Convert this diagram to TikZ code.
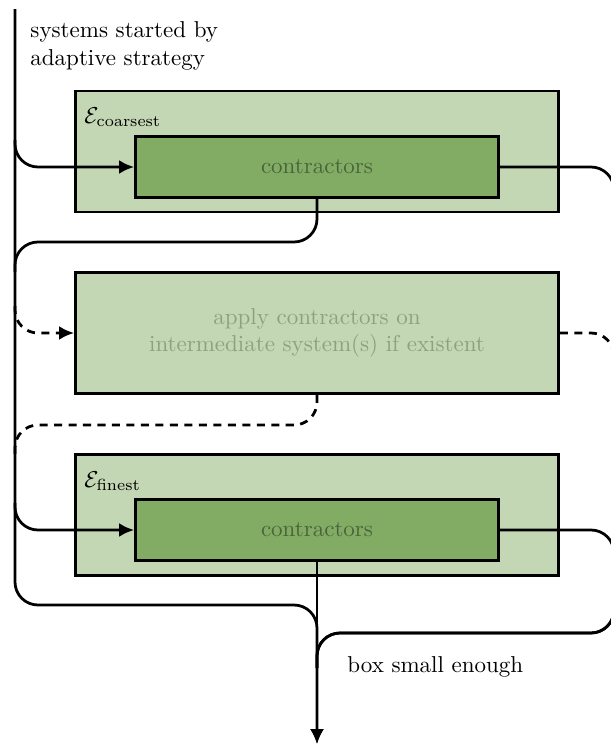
\documentclass[tikz,border=0pt]{standalone}
\usetikzlibrary{arrows.meta}
\definecolor{outerfill}{RGB}{196,215,180}
\definecolor{innerfill}{RGB}{130,172,100}
\definecolor{innertext}{RGB}{74,100,60}
\definecolor{midtext}{RGB}{140,162,126}
\tikzset{
  outerbox/.style={draw, line width=1.2pt, fill=outerfill, inner sep=0pt,
    minimum width=210.1pt, minimum height=52.6pt},
  innerbox/.style={draw, line width=1.2pt, fill=innerfill, inner sep=0pt,
    minimum width=157.9pt, minimum height=26.5pt, text=innertext},
  flow/.style={line width=1.2pt, rounded corners=10pt},
  optflow/.style={flow, dash pattern=on 3.5pt off 2.8pt},
  tip/.style={-{Latex[length=6.5pt,width=6pt]}}
}
\begin{document}
\begin{tikzpicture}[x=0.435pt, y=-0.435pt]
\useasboundingbox (0,0) rectangle (611,744);

% boxes
\node[outerbox] (coarse) at (317,151.5) {};
\node[innerbox] (ccoarse) at (317,167) {contractors};
\node[outerbox, text=midtext, align=center] (mid) at (317,333)
  {apply contractors on\\intermediate system(s) if existent};
\node[outerbox] (fine) at (317,515) {};
\node[innerbox] (cfine) at (317,530) {contractors};

% labels
\node[anchor=base west, inner sep=0pt, align=left] (start) at (30,65)
  {systems started by\\adaptive strategy};
\node[anchor=base west, inner sep=0pt] (lcoarse) at (84,123) {$\mathcal{E}_{\mathrm{coarsest}}$};
\node[anchor=base west, inner sep=0pt] (lfine) at (84,487) {$\mathcal{E}_{\mathrm{finest}}$};
\node[anchor=base west, inner sep=0pt] (ldone) at (347,672) {box small enough};

% helper points
\coordinate (top) at (15,9);
\coordinate (out) at (317,744);
\coordinate (rb) at (614,633);
\coordinate (jb) at (317,633);
\coordinate (jm) at (317,668);

% main spine on the left into the exit arrow
\draw[flow, tip] (top) -- (15,605) -- (317,605) -- (out);

% coarsest level
\draw[flow, tip] (15,140) |- (ccoarse.west);
\draw[flow] (ccoarse.south) -- (317,242) -- (15,242) -- (15,272);
\draw[flow] (ccoarse.east) -| (rb) -- (jb) -- (jm);

% intermediate level
\draw[optflow, tip] (15,306) |- (mid.west);
\draw[optflow] (mid.south) -- (317,425) -- (15,425) -- (15,455);
\draw[optflow] (mid.east) -| (rb);

% finest level
\draw[flow, tip] (15,503) |- (cfine.west);
\draw[flow] (cfine.east) -| (rb) -- (jb) -- (jm);
\draw[flow, tip] (cfine.south) -- (out);
\end{tikzpicture}
\end{document}
